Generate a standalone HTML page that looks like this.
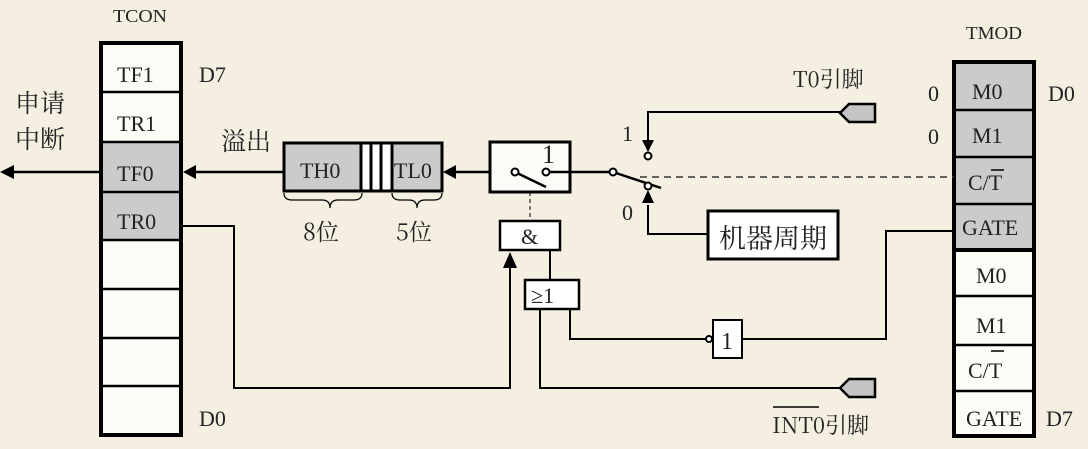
<!DOCTYPE html>
<html><head><meta charset="utf-8"><style>
html,body{margin:0;padding:0;background:#f5efe2;}
svg{display:block;}
text{font-family:"Liberation Serif","Noto Serif CJK SC",serif;fill:#222;}
.c{font-family:"Noto Serif CJK SC","Liberation Serif",serif;}
</style></head><body>
<svg width="1088" height="449" viewBox="0 0 1088 449" xmlns="http://www.w3.org/2000/svg">
<rect width="1088" height="449" fill="#f5efe2"/>
<g stroke="#000" fill="none">
<rect x="101" y="43" width="80" height="392" fill="#fdfbf6" stroke-width="4"/>
<rect x="103" y="142" width="76" height="98" fill="#cbcbcb" stroke="none"/>
<g stroke-width="2.5"><line x1="101" y1="92" x2="181" y2="92"/><line x1="101" y1="142" x2="181" y2="142"/><line x1="101" y1="192" x2="181" y2="192"/><line x1="101" y1="240" x2="181" y2="240"/><line x1="101" y1="289" x2="181" y2="289"/><line x1="101" y1="338" x2="181" y2="338"/><line x1="101" y1="386" x2="181" y2="386"/></g>
<rect x="101" y="43" width="80" height="392" stroke-width="4"/>
<rect x="954" y="62" width="80" height="374" fill="#fdfbf6" stroke-width="4"/>
<rect x="956" y="64" width="76" height="186" fill="#cbcbcb" stroke="none"/>
<g stroke-width="2.5"><line x1="954" y1="110" x2="1034" y2="110"/><line x1="954" y1="157" x2="1034" y2="157"/><line x1="954" y1="204" x2="1034" y2="204"/><line x1="954" y1="296" x2="1034" y2="296"/><line x1="954" y1="345" x2="1034" y2="345"/><line x1="954" y1="391" x2="1034" y2="391"/></g>
<line x1="954" y1="250" x2="1034" y2="250" stroke-width="4"/>
<rect x="954" y="62" width="80" height="374" stroke-width="4"/>
<rect x="284" y="143" width="77" height="48" fill="#cbcbcb" stroke-width="3"/>
<rect x="361" y="143" width="31" height="48" fill="#fff" stroke-width="3"/>
<line x1="371" y1="143" x2="371" y2="191" stroke-width="3"/><line x1="381" y1="143" x2="381" y2="191" stroke-width="3"/>
<rect x="392" y="143" width="50" height="48" fill="#cbcbcb" stroke-width="3"/>
<path d="M284 193 q0 7 8 7 h30 q8 0 8 8 q0 -8 8 -8 h16 q8 0 8 -7" stroke-width="1.2"/>
<path d="M392 193 q0 7 8 7 h9 q8 0 8 8 q0 -8 8 -8 h9 q8 0 8 -7" stroke-width="1.2"/>
<line x1="8" y1="172" x2="101" y2="172" stroke-width="2.5"/>
<line x1="190" y1="172" x2="284" y2="172" stroke-width="2.5"/>
<line x1="452" y1="172" x2="515" y2="172" stroke-width="2.5"/>
<rect x="490" y="142" width="80" height="50" fill="#fdfbf6" stroke-width="3"/>
<line x1="546" y1="172" x2="609" y2="172" stroke-width="2.5"/>
<line x1="515" y1="172" x2="546" y2="187" stroke-width="2.5"/>
<circle cx="515" cy="172" r="3.5" fill="#fff" stroke-width="2"/>
<circle cx="546" cy="172" r="3.5" fill="#fff" stroke-width="2"/>
<line x1="530" y1="192" x2="530" y2="221" stroke-width="1" stroke-dasharray="4,3"/>
<line x1="613" y1="172" x2="661" y2="188" stroke-width="2.5"/>
<circle cx="613" cy="172" r="3.5" fill="#fff" stroke-width="2"/>
<circle cx="648" cy="156" r="3.5" fill="#fff" stroke-width="2"/>
<circle cx="648" cy="186" r="3.5" fill="#fff" stroke-width="2"/>
<path d="M840 112 H648 V142" stroke-width="2"/>
<path d="M648 205 V234 H708" stroke-width="2"/>
<line x1="640" y1="177" x2="954" y2="177" stroke-width="1.5" stroke-dasharray="7,5" stroke="#333"/>
<rect x="708" y="211" width="130" height="48" fill="#fff" stroke-width="3"/>
<rect x="500" y="221" width="60" height="29" fill="#fff" stroke-width="2.5"/>
<rect x="525" y="280" width="54" height="29" fill="#fff" stroke-width="2.5"/>
<rect x="713" y="320" width="29" height="38" fill="#fff" stroke-width="2"/>
<circle cx="709" cy="339" r="3" fill="#fff" stroke-width="2"/>
<line x1="550" y1="250" x2="550" y2="280" stroke-width="2"/>
<path d="M181 226 H234 V388 H510 V268" stroke-width="2"/>
<path d="M570 309 V339 H706" stroke-width="2"/>
<path d="M742 339 H886 V231 H954" stroke-width="2"/>
<path d="M540 309 V388 H840" stroke-width="2"/>
<path d="M875 104 H849 L840 113 L849 122 H875 Z" fill="#c4c4c4" stroke-width="2.5"/>
<path d="M875 379 H849 L840 388 L849 397 H875 Z" fill="#c4c4c4" stroke-width="2.5"/>
</g>
<g fill="#000">
<path d="M0 172 L14 165 L14 179 Z"/>
<path d="M183 172 L196 165 L196 179 Z"/>
<path d="M443 172 L456 165 L456 179 Z"/>
<path d="M510 252 L503 268 L517 268 Z"/>
<path d="M648 152 L642 140 L654 140 Z"/>
<path d="M648 190 L642 203 L654 203 Z"/>
</g>
<g font-size="22">
<text x="113" y="22" font-size="18" textLength="54" lengthAdjust="spacingAndGlyphs">TCON</text>
<text x="117" y="82">TF1</text>
<text x="117" y="131">TR1</text>
<text x="117" y="181">TF0</text>
<text x="117" y="229">TR0</text>
<text x="199" y="82">D7</text>
<text x="199" y="426">D0</text>
<text class="c" x="15" y="112" font-size="25">申请</text>
<text class="c" x="15" y="148" font-size="25">中断</text>
<text class="c" x="221" y="150" font-size="25">溢出</text>
<text x="300" y="178">TH0</text>
<text x="394" y="178">TL0</text>
<text class="c" x="303" y="240" font-size="23">8位</text>
<text class="c" x="396" y="240" font-size="23">5位</text>
<text x="542" y="163" font-size="26">1</text>
<text x="622" y="141">1</text>
<text x="622" y="220">0</text>
<text class="c" x="793" y="87" font-size="22">T0引脚</text>
<text class="c" x="719" y="248" font-size="27">机器周期</text>
<text x="521" y="244">&amp;</text>
<text x="531" y="303">≥1</text>
<text x="721" y="349" font-size="24">1</text>
<text class="c" x="772" y="433" font-size="22">INT0引脚</text>
<line x1="773" y1="407" x2="819" y2="407" stroke="#000" stroke-width="1.5"/>
<text x="966" y="39" font-size="18" textLength="56" lengthAdjust="spacingAndGlyphs">TMOD</text>
<text x="928" y="101">0</text>
<text x="928" y="144">0</text>
<text x="972" y="99">M0</text>
<text x="972" y="143">M1</text>
<text x="968" y="190">C/T</text>
<line x1="991" y1="170" x2="1004" y2="170" stroke="#000" stroke-width="1.5"/>
<text x="962" y="235">GATE</text>
<text x="976" y="283">M0</text>
<text x="976" y="333">M1</text>
<text x="968" y="378">C/T</text>
<line x1="991" y1="351" x2="1004" y2="351" stroke="#000" stroke-width="1.5"/>
<text x="966" y="426">GATE</text>
<text x="1048" y="101">D0</text>
<text x="1046" y="426">D7</text>
</g>
</svg>
</body></html>
